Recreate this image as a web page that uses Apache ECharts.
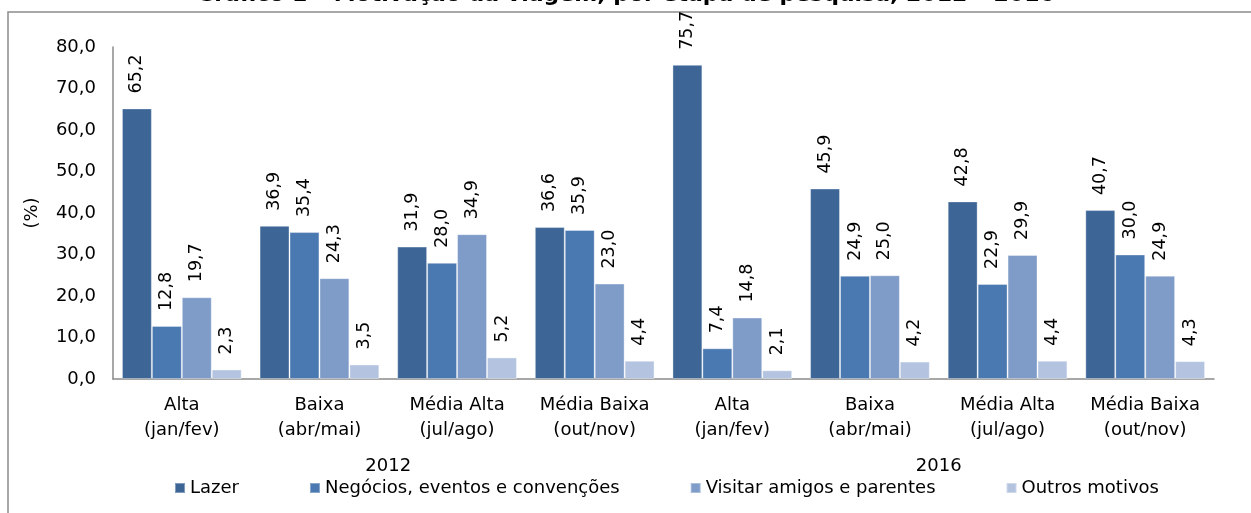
<!DOCTYPE html>
<html>
<head>
<meta charset="utf-8">
<script src="https://cdn.jsdelivr.net/npm/echarts@6/dist/echarts.min.js"></script>
<style>
  html, body { margin: 0; padding: 0; background: #fff; }
  #chart { width: 1251px; height: 513px; }
</style>
</head>
<body>
<div id="chart"></div>
<script>
var categories = [
  "Alta\n(jan/fev)", "Baixa\n(abr/mai)", "Média Alta\n(jul/ago)", "Média Baixa\n(out/nov)",
  "Alta\n(jan/fev)", "Baixa\n(abr/mai)", "Média Alta\n(jul/ago)", "Média Baixa\n(out/nov)"
];
var years = ["2012", "2016"];
var yTicks = [0, 80, 10];

var lazer = [65.2, 36.9, 31.9, 36.6, 75.7, 45.9, 42.8, 40.7];
var negocios = [12.8, 35.4, 28.0, 35.9, 7.4, 24.9, 22.9, 30.0];
var visitar = [19.7, 24.3, 34.9, 23.0, 14.8, 25.0, 29.9, 24.9];
var outros = [2.3, 3.5, 5.2, 4.4, 2.1, 4.2, 4.4, 4.3];

var seriesNames = ["Lazer", "Negócios, eventos e convenções", "Visitar amigos e parentes", "Outros motivos"];
var colors = ["#3d6697", "#4a78b0", "#7f9cc8", "#b4c4e0"];

var font = "'DejaVu Sans', sans-serif";
var axisGray = "#8a8a8a";

function fmt(v) {
  return v.toFixed(1).replace(".", ",");
}

function bar(name, data, color) {
  return {
    type: "bar",
    name: name,
    data: data,
    xAxisIndex: 0,
    barGap: "0%",
    barCategoryGap: "13%",
    itemStyle: {
      color: color,
      borderColor: "rgba(255,255,255,0.35)",
      borderWidth: 1
    },
    label: {
      show: true,
      position: "top",
      rotate: 90,
      align: "left",
      verticalAlign: "middle",
      distance: 15,
      fontFamily: font,
      fontSize: 17.5,
      color: "#000",
      formatter: function (p) { return fmt(p.value); }
    },
    animation: false
  };
}

var chart = echarts.init(document.getElementById("chart"));
chart.setOption({
  animation: false,
  title: {
    text: "Gráfico 1 – Motivação da viagem, por etapa de pesquisa, 2012 – 2016",
    left: "center",
    top: -21,
    textStyle: { fontFamily: font, fontSize: 22, fontWeight: "bold", color: "#000" }
  },
  graphic: [{
    type: "rect",
    shape: { x: 8, y: 12, width: 1400, height: 700 },
    style: { fill: "none", stroke: "#8c8c8c", lineWidth: 1.5 },
    silent: true,
    z: -1
  }],
  legend: {
    data: seriesNames,
    left: 169,
    top: 474,
    icon: "rect",
    itemWidth: 10,
    itemHeight: 10,
    itemGap: 70,
    textStyle: { fontFamily: font, fontSize: 18, color: "#000" }
  },
  grid: { left: 113, right: 37, top: 47, bottom: 134, containLabel: false },
  xAxis: [{
    type: "category",
    data: categories,
    position: "bottom",
    axisLine: { lineStyle: { color: axisGray, width: 1.5 } },
    axisTick: { length: 62, lineStyle: { color: axisGray, width: 1.5 } },
    axisLabel: { margin: 14, fontFamily: font, fontSize: 18, lineHeight: 25, color: "#000", interval: 0 }
  }, {
    type: "category",
    data: years,
    position: "bottom",
    axisLine: { show: false },
    axisTick: { length: 98, lineStyle: { color: axisGray, width: 1.5 } },
    axisLabel: { margin: 78, fontFamily: font, fontSize: 18, color: "#000" }
  }],
  yAxis: {
    type: "value",
    min: yTicks[0],
    max: yTicks[1],
    interval: yTicks[2],
    name: "(%)",
    nameLocation: "middle",
    nameRotate: 90,
    nameGap: 72,
    nameTextStyle: { fontFamily: font, fontSize: 18, color: "#000" },
    axisLine: { show: true, lineStyle: { color: axisGray, width: 1.5 } },
    axisTick: { show: false },
    splitLine: { show: false },
    axisLabel: {
      margin: 17,
      fontFamily: font,
      fontSize: 18,
      color: "#000",
      formatter: function (v) { return fmt(v); }
    }
  },
  series: [
    bar(seriesNames[0], lazer, colors[0]),
    bar(seriesNames[1], negocios, colors[1]),
    bar(seriesNames[2], visitar, colors[2]),
    bar(seriesNames[3], outros, colors[3])
  ]
});
</script>
</body>
</html>
